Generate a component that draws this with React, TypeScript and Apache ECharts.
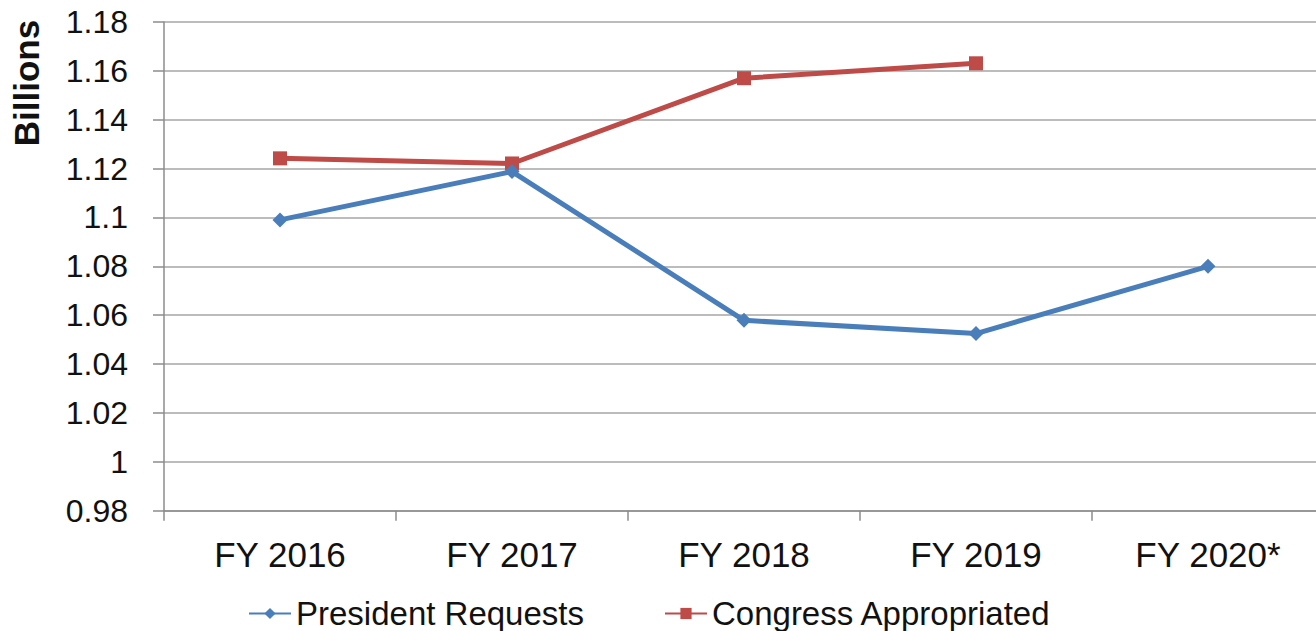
import React, { useEffect, useRef } from "react";
import * as echarts from "echarts";

const categories = ["FY 2016", "FY 2017", "FY 2018", "FY 2019", "FY 2020*"];
const presidentRequests = [1.099, 1.1188, 1.0579, 1.0525, 1.08];
const congressAppropriated = [1.1242, 1.1221, 1.157, 1.1631, null];
const yTicks = { min: 0.98, max: 1.18, interval: 0.02 };

const FONT = "Liberation Sans, Arial, sans-serif";

export default function App() {
  const ref = useRef<HTMLDivElement>(null);
  useEffect(() => {
    if (!ref.current) return;
    const chart = echarts.init(ref.current, null, { renderer: "svg" });
    chart.setOption({
      animation: false,
      backgroundColor: "#ffffff",
      grid: { left: 164, top: 22, right: 0, height: 488.7, containLabel: false },
      legend: {
        left: 243,
        top: 592,
        itemWidth: 42,
        itemHeight: 14,
        itemGap: 80,
        textStyle: { fontFamily: FONT, fontSize: 33, color: "#111111" },
        data: ["President Requests", "Congress Appropriated"],
      },
      graphic: [
        {
          type: "text",
          x: 26,
          y: 83,
          rotation: Math.PI / 2,
          style: {
            text: "Billions",
            fontFamily: FONT,
            fontSize: 35,
            fontWeight: "bold",
            fill: "#111111",
            align: "center",
            verticalAlign: "middle",
          },
        },
      ],
      xAxis: {
        type: "category",
        data: categories,
        boundaryGap: true,
        axisLine: { show: true, lineStyle: { color: "#8c8c8c", width: 1.5 } },
        axisTick: { show: true, length: 10, lineStyle: { color: "#8c8c8c", width: 1.5 } },
        axisLabel: { fontFamily: FONT, fontSize: 35, color: "#111111", margin: 26 },
        splitLine: { show: false },
      },
      yAxis: {
        type: "value",
        min: yTicks.min,
        max: yTicks.max,
        interval: yTicks.interval,
        axisLine: { show: true, lineStyle: { color: "#8c8c8c", width: 1.5 } },
        axisTick: { show: true, length: 11, lineStyle: { color: "#8c8c8c", width: 1.5 } },
        axisLabel: { fontFamily: FONT, fontSize: 32, color: "#111111", margin: 36 },
        splitLine: { show: true, lineStyle: { color: "#a6a6a6", width: 1.5 } },
      },
      series: [
        {
          name: "President Requests",
          type: "line",
          data: presidentRequests,
          symbol: "diamond",
          symbolSize: 15,
          lineStyle: { color: "#4a7ebb", width: 5 },
          itemStyle: { color: "#4a7ebb" },
          z: 3,
        },
        {
          name: "Congress Appropriated",
          type: "line",
          data: congressAppropriated,
          symbol: "rect",
          symbolSize: 14,
          lineStyle: { color: "#be4b48", width: 5 },
          itemStyle: { color: "#be4b48" },
          z: 2,
        },
      ],
    });
    return () => chart.dispose();
  }, []);
  return (
    <div
      style={{
        position: "fixed",
        left: 0,
        top: 0,
        width: 1316,
        height: 631,
        overflow: "hidden",
        background: "#fff",
      }}
    >
      <div ref={ref} style={{ width: 1324, height: 631 }} />
    </div>
  );
}
